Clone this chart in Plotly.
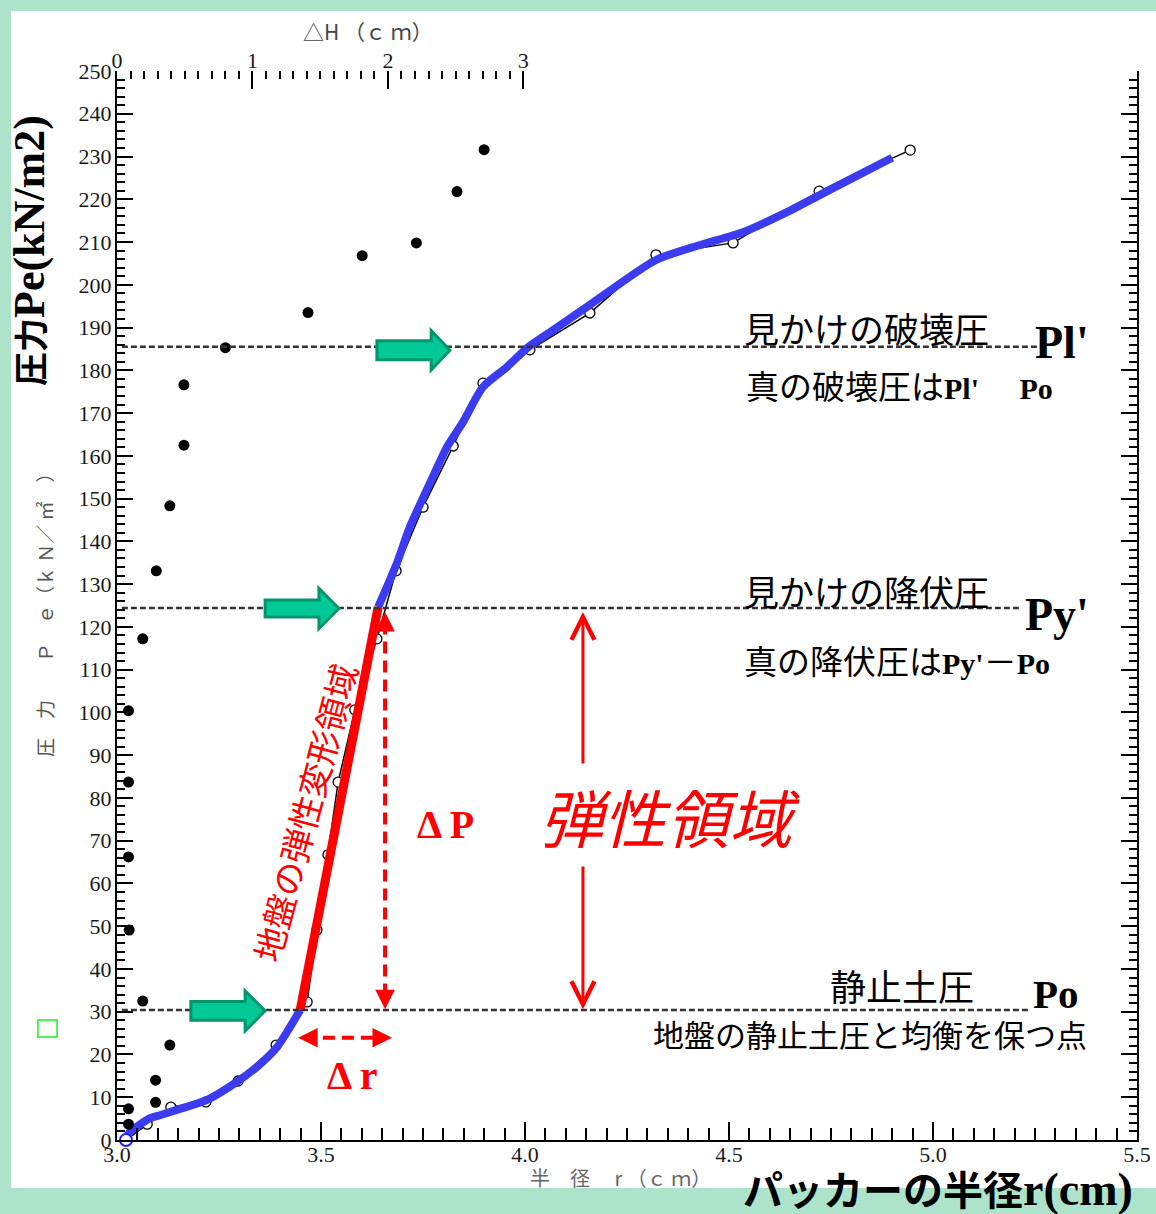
import plotly.graph_objects as go

# ---------------- data ----------------
# open circles: packer radius r (cm) vs pressure Pe (kN/m2)
r_open = [3.022, 3.074, 3.132, 3.218, 3.297, 3.390, 3.466, 3.490, 3.517, 3.542, 3.583,
          3.637, 3.684, 3.750, 3.824, 3.897, 4.012, 4.159, 4.321, 4.510, 4.721, 4.944]
p_open = [0, 3.7, 7.7, 8.9, 13.8, 22.2, 32.3, 49.1, 66.7, 83.7, 100.6,
          117.2, 133.1, 148.0, 162.3, 177.0, 184.8, 193.4, 207.0, 209.8, 221.9, 231.5]

# filled dots: ΔH (cm) vs pressure
dh_fill = [0.085, 0.085, 0.285, 0.285, 0.39, 0.19, 0.09, 0.085, 0.085, 0.085, 0.19,
           0.29, 0.39, 0.494, 0.494, 0.80, 1.41, 1.81, 2.21, 2.51, 2.71]
p_fill = [3.7, 7.3, 8.8, 14.0, 22.2, 32.5, 49.1, 66.2, 83.7, 100.4, 117.2,
          133.1, 148.3, 162.5, 176.6, 185.3, 193.5, 206.8, 209.8, 221.8, 231.6]

# hand-drawn fitted curve (blue) and elastic segment (red)
r_fit_lo = [3.022, 3.029, 3.081, 3.105, 3.162, 3.221, 3.294, 3.343, 3.392, 3.424, 3.449]
p_fit_lo = [0, 1.6, 5.1, 5.8, 7.5, 9.4, 13.6, 17.1, 21.7, 26.4, 30.4]
r_elastic = [3.449, 3.640]
p_elastic = [30.4, 124.6]
r_fit_hi = [3.640, 3.686, 3.718, 3.767, 3.809, 3.848, 3.897, 3.956, 4.005, 4.069,
            4.159, 4.321, 4.429, 4.534, 4.642, 4.755, 4.900]
p_fit_hi = [124.6, 134.9, 143.4, 153.6, 162.1, 167.9, 176.1, 180.8, 185.2, 189.4,
            195.3, 205.8, 209.3, 212.3, 217.0, 222.6, 229.7]

# characteristic pressures
P_l = 185.5   # apparent failure pressure Pl'
P_y = 124.4   # apparent yield pressure Py'
P_o = 30.4    # earth pressure at rest Po

x_ticks = [3.0, 3.5, 4.0, 4.5, 5.0, 5.5]
dh_ticks = [0, 1, 2, 3]
y_ticks = list(range(0, 251, 10))

# ---------------- styling ----------------
MINT = "#ade3ca"
BLUE = "#3b3bf0"
RED = "#ff0000"
GREEN_FILL = "#00c896"
GREEN_LINE = "#00956c"
CJK = "Noto Sans CJK JP"
SERIF = "Liberation Serif"

fig = go.Figure()

# open circles with thin black connecting line (underneath the fitted curve)
fig.add_trace(go.Scatter(
    x=r_open, y=p_open, mode="lines+markers",
    line=dict(color="black", width=1.5),
    marker=dict(symbol="circle", size=10, color="white",
                line=dict(color="black", width=1.3)),
    xaxis="x", yaxis="y", showlegend=False, cliponaxis=False))

# filled dots vs ΔH (top axis)
fig.add_trace(go.Scatter(
    x=dh_fill, y=p_fill, mode="markers",
    marker=dict(symbol="circle", size=11, color="black"),
    xaxis="x2", yaxis="y", showlegend=False, cliponaxis=False))

# fitted blue curve
fig.add_trace(go.Scatter(x=r_fit_lo, y=p_fit_lo, mode="lines",
                         line=dict(color=BLUE, width=8, shape="spline", smoothing=0.7),
                         showlegend=False, cliponaxis=False))
fig.add_trace(go.Scatter(x=r_fit_hi, y=p_fit_hi, mode="lines",
                         line=dict(color=BLUE, width=8, shape="spline", smoothing=0.7),
                         showlegend=False))
# red elastic segment
fig.add_trace(go.Scatter(x=r_elastic, y=p_elastic, mode="lines",
                         line=dict(color=RED, width=9), showlegend=False))
# blue origin circle
fig.add_trace(go.Scatter(x=[r_open[0]], y=[p_open[0]], mode="markers",
                         marker=dict(symbol="circle", size=12, color="white",
                                     line=dict(color="#2020ff", width=2)),
                         showlegend=False, cliponaxis=False))

shapes = []
# white panel on mint frame
shapes.append(dict(type="rect", xref="paper", yref="paper",
                   x0=-0.1039, x1=1.03, y0=-0.0449, y1=1.0561,
                   fillcolor="white", line=dict(width=0), layer="below"))
# green small square at left
shapes.append(dict(type="rect", xref="paper", yref="paper",
                   x0=-0.0775, x1=-0.0588, y0=0.0964, y1=0.1123,
                   fillcolor="rgba(0,0,0,0)", line=dict(color="#22ee22", width=1.5)))

# dotted reference lines
for p, xend in [(P_l, 5.265), (P_y, 5.218), (P_o, 5.235)]:
    shapes.append(dict(type="line", xref="x", yref="y", x0=3.012, x1=xend, y0=p, y1=p,
                       line=dict(color="#333333", width=2.5, dash="6px,3px")))

# green block arrows (tail, head-start, tip, centre, body half-height, head half-height)
def block_arrow(x0, xh, xt, yc, bh, hh):
    return (f"M{x0},{yc-bh} L{xh},{yc-bh} L{xh},{yc-hh} L{xt},{yc} "
            f"L{xh},{yc+hh} L{xh},{yc+bh} L{x0},{yc+bh} Z")

for a in [(3.637, 3.770, 3.816, 184.7, 2.2, 4.6),
          (3.363, 3.495, 3.544, 124.3, 2.0, 4.7),
          (3.181, 3.314, 3.363, 30.2, 2.2, 4.7)]:
    shapes.append(dict(type="path", xref="x", yref="y", path=block_arrow(*a),
                       fillcolor=GREEN_FILL, line=dict(color=GREEN_LINE, width=3)))

# red dashed ΔP and Δr lines
shapes.append(dict(type="line", xref="x", yref="y", x0=3.657, x1=3.657, y0=121.0, y1=33.0,
                   line=dict(color=RED, width=4, dash="12px,7px")))
shapes.append(dict(type="line", xref="x", yref="y", x0=3.458, x1=3.662, y0=23.9, y1=23.9,
                   line=dict(color=RED, width=4, dash="12px,7px")))

ann = []
# arrowheads for dashed arrows (pixel tails)
for x, y, ax, ay in [(3.657, 123.5, 0, 14), (3.657, 30.6, 0, -14),
                     (3.444, 23.9, 14, 0), (3.674, 23.9, -14, 0)]:
    ann.append(dict(x=x, y=y, xref="x", yref="y", ax=ax, ay=ay, text="",
                    showarrow=True, arrowhead=2, arrowsize=1.3, arrowwidth=3,
                    arrowcolor=RED))
# solid red arrows of the elastic zone
for tip, tail in [(123.5, 87.7), (30.6, 64.3)]:
    ann.append(dict(x=4.142, y=tip, ax=4.142, ay=tail, xref="x", yref="y",
                    axref="x", ayref="y", text="", showarrow=True, arrowhead=5,
                    arrowsize=1.5, arrowwidth=3, arrowcolor=RED))

def txt(x, y, text, size, color="black", family=CJK, angle=0, xref="x", yref="y",
        xanchor="center"):
    ann.append(dict(x=x, y=y, xref=xref, yref=yref, text=text, showarrow=False,
                    font=dict(size=size, color=color, family=family),
                    textangle=angle, xanchor=xanchor, yanchor="middle"))

def lat(s, size):
    return f"<span style=\"font-family:'{SERIF}';font-size:{size}px\"><b>{s}</b></span>"

# black explanatory texts
txt(4.836, 189.9, "見かけの破壊圧", 35)
txt(5.316, 186.4, "<b>Pl'</b>", 46, family=SERIF)
txt(4.919, 176.6, "真の破壊圧は" + lat("Pl'", 30) + "　 " + lat("Po", 30), 33)
txt(4.836, 128.6, "見かけの降伏圧", 35)
txt(5.304, 123.0, "<b>Py'</b>", 46, family=SERIF)
txt(4.912, 112.3, "真の降伏圧は" + lat("Py'", 30) + "－" + lat("Po", 30), 33)
txt(4.924, 36.2, "静止土圧", 36)
txt(5.301, 34.2, "<b>Po</b>", 41, family=SERIF)
txt(4.846, 25.0, "地盤の静止土圧と均衡を保つ点", 31)

# red texts
txt(3.804, 73.7, "<b>Δ P</b>", 40, color=RED, family=SERIF)
txt(3.578, 15.2, "<b>Δ r</b>", 40, color=RED, family=SERIF)
txt(4.355, 76.0, "<i>弾性領域</i>", 63, color=RED)
txt(3.460, 76.5, "地盤の弾性変形領域", 34, color=RED, angle=-75)

# axis titles
txt(-0.0853, 0.8326, "<b>圧力</b>" + lat("Pe(kN/m2)", 44), 34, angle=-90,
    xref="paper", yref="paper")
txt(-0.0706, 0.4958, "圧　力　　Ｐ　ｅ（ｋ Ｎ／ ㎡　）", 19, color="#555555", angle=-90,
    xref="paper", yref="paper")
txt(0.246, 1.0374, "△H （ｃ ｍ）", 21, color="#444444", xref="paper", yref="paper")
txt(0.494, -0.0355, "半　径　 r （ｃ ｍ）", 20, color="#666666", xref="paper", yref="paper")
txt(0.805, -0.0445, "<b>パッカーの半径</b>" + lat("r(cm)", 46), 40,
    xref="paper", yref="paper")

tickfont = dict(family=SERIF, size=22, color="#1a1a1a")

fig.update_layout(
    width=1156, height=1214,
    margin=dict(l=117, r=19, t=71, b=74, autoexpand=False),
    paper_bgcolor=MINT, plot_bgcolor="white",
    shapes=shapes, annotations=ann, showlegend=False,
    xaxis=dict(range=[3.0, 5.5], tickvals=x_ticks, tickformat=".1f",
               ticks="inside", ticklen=18, tickwidth=2, tickcolor="black",
               showline=True, linecolor="black", linewidth=2, showgrid=False,
               zeroline=False, tickfont=tickfont, ticklabelstandoff=-6,
               minor=dict(dtick=0.05, tick0=3.0, ticks="inside", ticklen=12,
                          tickwidth=1.5, tickcolor="black", showgrid=False)),
    xaxis2=dict(range=[0, 7.53], overlaying="x", side="top", anchor="y",
                tickvals=dh_ticks, ticks="inside", ticklen=18, tickwidth=2,
                tickcolor="black", showline=False, showgrid=False, zeroline=False,
                tickfont=tickfont, ticklabelstandoff=-2,
                minor=dict(tickmode="array",
                           tickvals=[i / 10 for i in range(1, 30) if i % 10],
                           ticks="inside", ticklen=8, tickwidth=2,
                           tickcolor="black", showgrid=False)),
    yaxis=dict(range=[0, 250], tickvals=y_ticks, ticks="inside", ticklen=16,
               tickwidth=2, tickcolor="black", showline=True, linecolor="black",
               linewidth=2, mirror="ticks", showgrid=False, zeroline=False,
               tickfont=tickfont, ticklabelstandoff=-1,
               minor=dict(dtick=2, tick0=0, ticks="inside", ticklen=8,
                          tickwidth=1.5, tickcolor="black", showgrid=False)),
)

fig.write_html("out.html", config={"displayModeBar": False},
               post_script="document.body.style.margin='0';document.body.style.padding='0';")
